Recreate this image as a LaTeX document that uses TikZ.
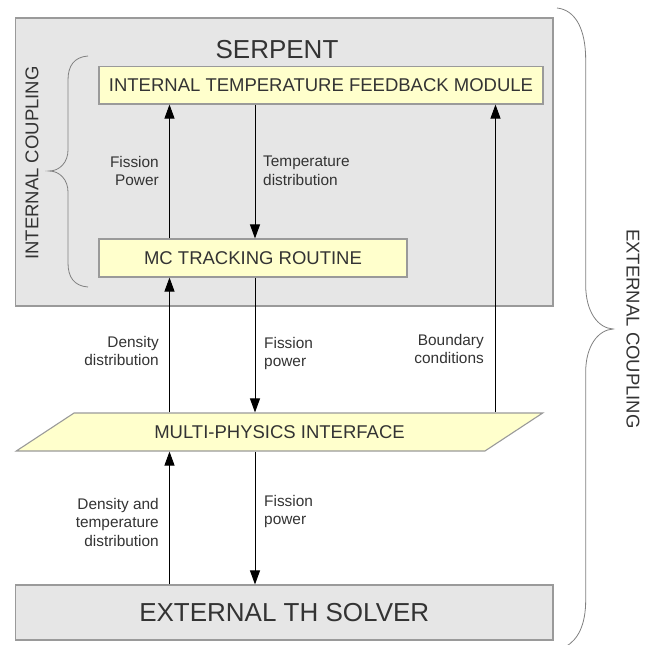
\documentclass[tikz,border=0pt]{standalone}
\usepackage{fontspec}
\setmainfont{Liberation Sans}
\usetikzlibrary{arrows.meta,shapes.geometric}
\definecolor{boxGrey}{HTML}{E6E6E6}
\definecolor{edgeGrey}{HTML}{9A9A9A}
\definecolor{noteYellow}{HTML}{FFFFCC}
\definecolor{inkGrey}{HTML}{333333}
\definecolor{braceGrey}{HTML}{808080}

\begin{document}
\begin{tikzpicture}[x=1pt, y=-1pt, >={Triangle[length=14pt,width=10pt]},
    greybox/.style={draw=edgeGrey, line width=1.1pt, fill=boxGrey, inner sep=0pt, text=inkGrey},
    yellowbox/.style={draw=edgeGrey, line width=1.1pt, fill=noteYellow, inner sep=0pt, text=inkGrey, font=\fontsize{18.5}{22}\selectfont},
    bigtext/.style={text=inkGrey, inner sep=0pt, font=\fontsize{26}{30}\selectfont},
    sidetext/.style={text=inkGrey, inner sep=0pt, font=\fontsize{18.5}{22}\selectfont},
    flowlabel/.style={text=inkGrey, inner sep=0pt, font=\fontsize{15.4}{18.5}\selectfont},
    flow/.style={->, line width=0.9pt},
    coupling/.style={draw=braceGrey, line width=0.8pt}]
  \useasboundingbox (0,0) rectangle (649,645);
  % boxes
  \node[greybox, minimum width=537.5pt, minimum height=288pt] (serpent) at (284.25,162) {};
  \node[bigtext] (serpenttitle) at (277,50) {SERPENT};
  \node[yellowbox, minimum width=444pt, minimum height=37.3pt] (itfm) at (321,85.35) {INTERNAL TEMPERATURE FEEDBACK MODULE};
  \node[yellowbox, minimum width=308pt, minimum height=38pt] (mc) at (253,258) {MC TRACKING ROUTINE};
  \node[yellowbox, trapezium, trapezium left angle=20.4, trapezium right angle=159.6, trapezium stretches=true,
        minimum width=527pt, minimum height=38pt] (mpi) at (279.5,432) {MULTI-PHYSICS INTERFACE};
  \node[greybox, font=\fontsize{26}{30}\selectfont, minimum width=537.5pt, minimum height=55pt] (ext) at (284.25,612.5) {EXTERNAL TH SOLVER};
  % braces
  \draw[coupling] (88,56) .. controls (74,57) and (68,66) .. (68,80) -- (68,150)
    .. controls (68,162) and (60,171) .. (49,171) .. controls (60,171) and (68,180) .. (68,192)
    -- (68,263) .. controls (68,277) and (74,286) .. (88,287);
  \node[sidetext, rotate=90] (intcoupling) at (32,163) {INTERNAL COUPLING};
  \draw[coupling] (557,8) .. controls (576,10) and (585.7,30) .. (585.7,60) -- (585.7,285)
    .. controls (585.7,312) and (598,328) .. (613,329) .. controls (598,330) and (585.7,346) .. (585.7,372)
    -- (585.7,600) .. controls (585.7,625) and (578,640) .. (565,647);
  \node[sidetext, rotate=-90] (extcoupling) at (633,329) {EXTERNAL COUPLING};
  % connectors
  \coordinate (lcol) at (169.5,0);
  \coordinate (mcol) at (255,0);
  \coordinate (rcol) at (495.5,0);
  \draw[flow] (lcol |- mc.north) -- (lcol |- itfm.south);
  \draw[flow] (mcol |- itfm.south) -- (mcol |- mc.north);
  \draw[flow] (lcol |- mpi.north) -- (lcol |- mc.south);
  \draw[flow] (mcol |- mc.south) -- (mcol |- mpi.north);
  \draw[flow] (rcol |- mpi.north) -- (rcol |- itfm.south);
  \draw[flow] (lcol |- ext.north) -- (lcol |- mpi.south);
  \draw[flow] (mcol |- mpi.south) -- (mcol |- ext.north);
  % labels
  \node[flowlabel, align=right, anchor=north east] (fisspowerin) at (159,156) {Fission\\Power};
  \node[flowlabel, align=left, anchor=north west] (tempdist) at (263,156) {Temperature\\distribution};
  \node[flowlabel, align=right, anchor=north east] (densdist) at (159,336) {Density\\distribution};
  \node[flowlabel, align=left, anchor=north west] (fisspowermid) at (264,337) {Fission\\power};
  \node[flowlabel, align=right, anchor=north east] (boundcond) at (484,334) {Boundary\\conditions};
  \node[flowlabel, align=right, anchor=north east] (denstempdist) at (159,498) {Density and\\temperature\\distribution};
  \node[flowlabel, align=left, anchor=north west] (fisspowerlow) at (264,495) {Fission\\power};
\end{tikzpicture}
\end{document}
